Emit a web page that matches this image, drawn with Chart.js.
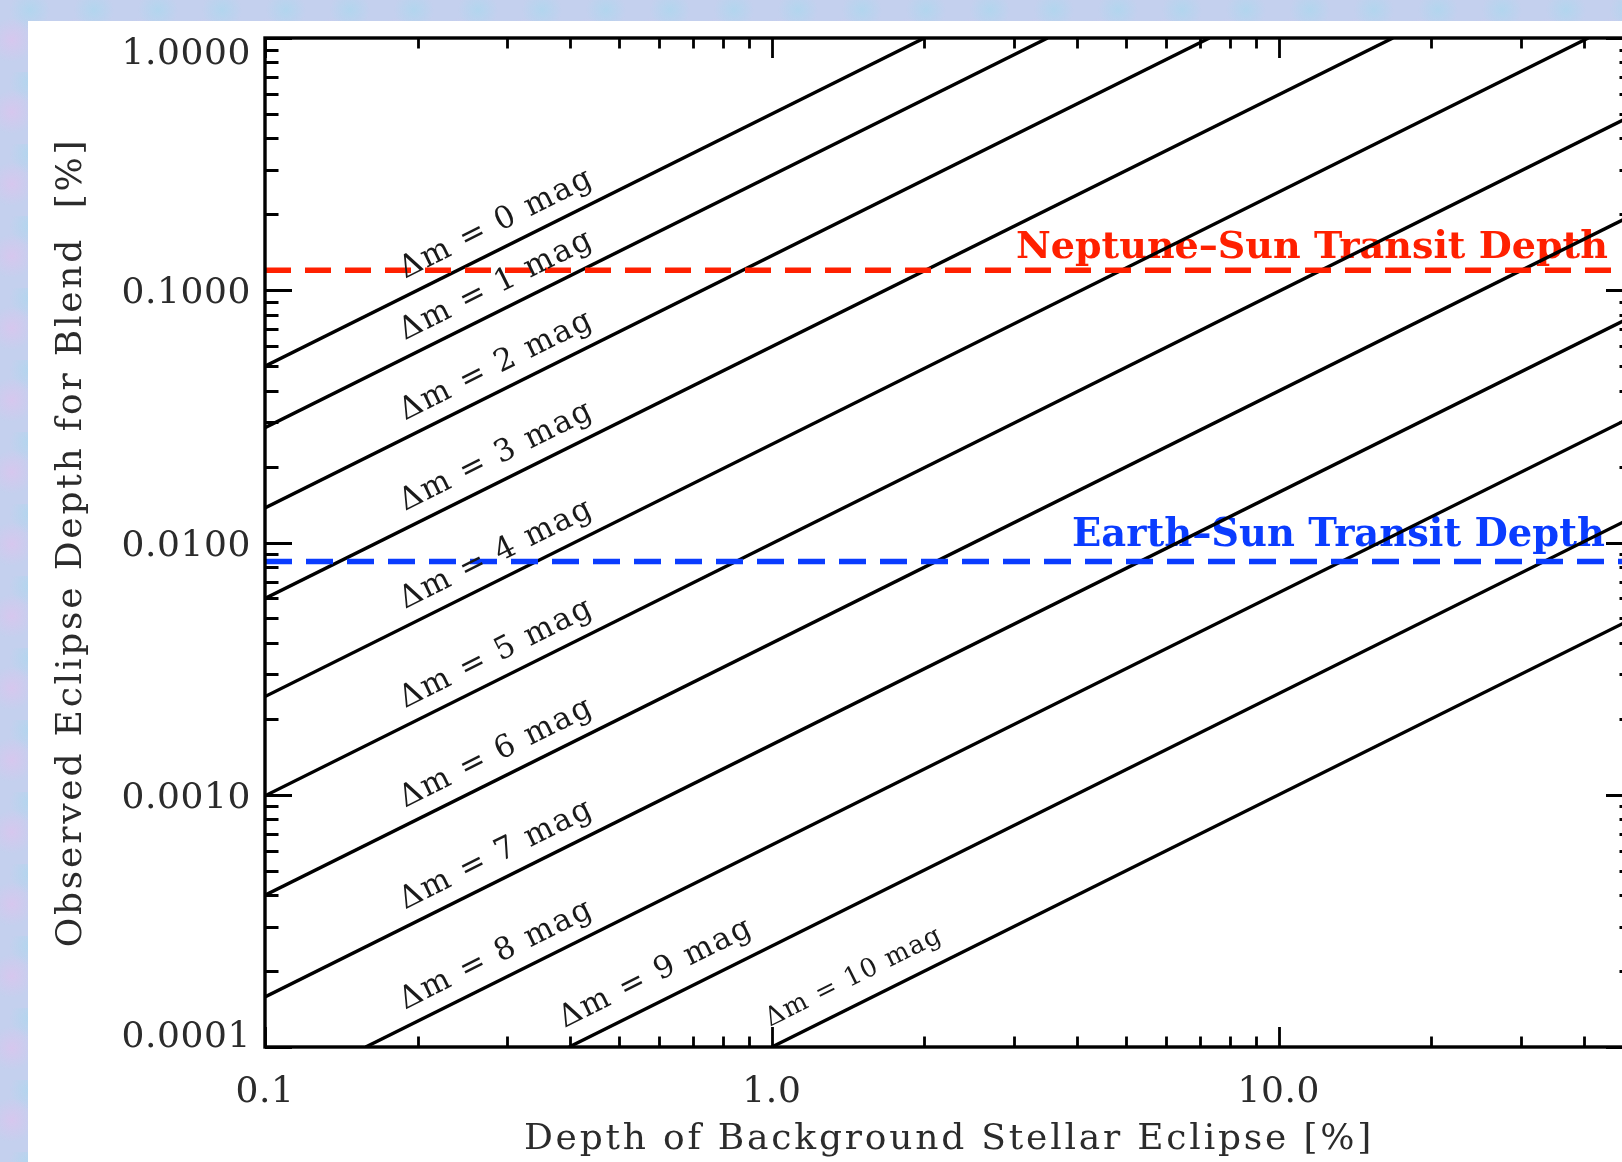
<!DOCTYPE html>
<html>
<head>
<meta charset="utf-8">
<script src="https://cdn.jsdelivr.net/npm/chart.js@4.4.1/dist/chart.umd.min.js"></script>
<style>
html,body{margin:0;padding:0;width:1622px;height:1162px;overflow:hidden;}
body{
  background-color:#c4d0ee;
  background-image:
    radial-gradient(circle at 12px 40px, rgba(216,198,238,0.9) 0, rgba(216,198,238,0) 22px),
    radial-gradient(circle at 30px 10px, rgba(176,214,238,0.9) 0, rgba(176,214,238,0) 20px),
    radial-gradient(circle at 50px 60px, rgba(198,212,244,0.9) 0, rgba(198,212,244,0) 18px);
  background-size:64px 72px;
}
#panel{position:absolute;left:28px;top:21px;right:0;bottom:0;background:#ffffff;}
#wrap{position:absolute;left:0;top:0;width:1660px;height:1162px;}
</style>
</head>
<body>
<div id="panel"></div>
<div id="wrap"><canvas id="c"></canvas></div>
<script>
// ---- data ----
const deltaMag = [0, 1, 2, 3, 4, 5, 6, 7, 8, 9, 10];
const lineStartDepth = [0.1, 0.1, 0.1, 0.1, 0.1, 0.1, 0.1, 0.1, 0.158, 0.398, 1.0];
const lineStartBlend = [0.05, 0.0285, 0.0137, 0.006, 0.00245, 0.00099, 0.0004, 0.000158, 0.0001, 0.0001, 0.0001];
const lineEndDepth = [2.0, 3.5, 7.3, 16.8, 40.8, 50, 50, 50, 50, 50, 50];
const lineEndBlend = [1, 1, 1, 1, 1, 0.495, 0.199, 0.079, 0.0316, 0.0126, 0.005];
const neptuneDepth = 0.12;
const earthDepth = 0.0084;
const xRange = [0.1, 50];
const yRange = [0.0001, 1];
const xTickValues = [0.1, 1, 10];
const xTickLabels = ['0.1', '1.0', '10.0'];
const yTickValues = [0.0001, 0.001, 0.01, 0.1, 1];
const yTickLabels = ['0.0001', '0.0010', '0.0100', '0.1000', '1.0000'];
const labelStartDepth = [0.195, 0.195, 0.195, 0.195, 0.195, 0.195, 0.195, 0.195, 0.195, 0.405, 1.03];
const neptuneText = 'Neptune\u2013Sun Transit Depth';
const earthText = 'Earth\u2013Sun Transit Depth';

// minor/major tick positions (1..9 x 10^n)
function decadeTicks(lo, hi) {
  const out = [];
  for (let e = Math.floor(Math.log10(lo)); e <= Math.ceil(Math.log10(hi)); e++) {
    for (let k = 1; k <= 9; k++) {
      const v = parseFloat((k * Math.pow(10, e)).toPrecision(4));
      if (v >= lo * 0.9999 && v <= hi * 1.0001) out.push({v, major: k === 1});
    }
  }
  return out;
}
const xAllTicks = decadeTicks(xRange[0], xRange[1]);
const yAllTicks = decadeTicks(yRange[0], yRange[1]);

const datasets = [];
datasets.push({
  label: 'Neptune', data: [{x: xRange[0], y: neptuneDepth}, {x: xRange[1], y: neptuneDepth}],
  borderColor: '#ff2000', borderWidth: 5.5, borderDash: [26, 14], pointRadius: 0, showLine: true
});
datasets.push({
  label: 'Earth', data: [{x: xRange[0], y: earthDepth}, {x: xRange[1], y: earthDepth}],
  borderColor: '#0a3cff', borderWidth: 5.5, borderDash: [27, 14], pointRadius: 0, showLine: true
});
deltaMag.forEach((m, i) => {
  datasets.push({
    label: '\u0394m = ' + m + ' mag',
    data: [{x: lineStartDepth[i], y: lineStartBlend[i]}, {x: lineEndDepth[i], y: lineEndBlend[i]}],
    borderColor: '#000', borderWidth: 3.4, pointRadius: 0, showLine: true
  });
});

const TXT = '#2b2b2b';
const SERIF = '"DejaVu Serif", "Liberation Serif", serif';

const decor = {
  id: 'decor',
  beforeDraw(chart) {
    chart.ctx.letterSpacing = '2.8px';
  },
  beforeDatasetsDraw(chart) {
    const {ctx, scales: {x, y}} = chart;
    ctx.letterSpacing = '0px';
    ctx.save();
    const size = 37;
    ctx.textAlign = 'right';
    ctx.textBaseline = 'alphabetic';
    const fit = (text, target) => {
      ctx.font = 'bold ' + size + 'px ' + SERIF;
      const w = ctx.measureText(text).width;
      return size * target / w;
    };
    const s1 = fit(neptuneText, 592);
    ctx.font = 'bold ' + s1 + 'px ' + SERIF;
    ctx.fillStyle = '#ff2000';
    ctx.fillText(neptuneText, x.getPixelForValue(44.6), y.getPixelForValue(neptuneDepth) - 12);
    const s2 = fit(earthText, 533);
    ctx.font = 'bold ' + s2 + 'px ' + SERIF;
    ctx.fillStyle = '#0a3cff';
    ctx.fillText(earthText, x.getPixelForValue(44.0), y.getPixelForValue(earthDepth) - 16);
    ctx.restore();
  },
  afterDatasetsDraw(chart) {
    const {ctx, chartArea: a, scales: {x, y}} = chart;
    ctx.save();
    ctx.strokeStyle = '#000';
    ctx.lineCap = 'butt';
    // ticks
    ctx.lineWidth = 2.8;
    ctx.beginPath();
    xAllTicks.forEach(t => {
      const px = Math.round(x.getPixelForValue(t.v)) + 0.5;
      const len = t.major ? 20 : 10.5;
      ctx.moveTo(px, a.bottom); ctx.lineTo(px, a.bottom - len);
      ctx.moveTo(px, a.top); ctx.lineTo(px, a.top + len);
    });
    yAllTicks.forEach(t => {
      const py = Math.round(y.getPixelForValue(t.v)) + 0.5;
      const len = t.major ? 27 : 13.5;
      ctx.moveTo(a.left, py); ctx.lineTo(a.left + len, py);
      ctx.moveTo(a.right, py); ctx.lineTo(a.right - len, py);
    });
    ctx.stroke();
    // frame
    ctx.lineWidth = 3.4;
    ctx.strokeRect(a.left, a.top, a.right - a.left, a.bottom - a.top);

    // tick labels
    const fs = 36;
    ctx.font = fs + 'px ' + SERIF;
    ctx.letterSpacing = '0.6px';
    ctx.fillStyle = TXT;
    ctx.textBaseline = 'alphabetic';
    const half = fs * 0.729 / 2;
    ctx.textAlign = 'right';
    yTickValues.forEach((v, i) => {
      const py = y.getPixelForValue(v);
      let base = py + half;
      if (i === yTickValues.length - 1) base = a.top + fs * 0.729;
      if (i === 0) base = a.bottom;
      ctx.fillText(yTickLabels[i], a.left - 14, base);
    });
    ctx.textAlign = 'center';
    xTickValues.forEach((v, i) => {
      ctx.fillText(xTickLabels[i], x.getPixelForValue(v), a.bottom + 55);
    });

    // line labels
    deltaMag.forEach((m, i) => {
      const meta = chart.getDatasetMeta(i + 2);
      const p0 = meta.data[0], p1 = meta.data[1];
      const ang = Math.atan2(p1.y - p0.y, p1.x - p0.x);
      const px = x.getPixelForValue(labelStartDepth[i]);
      const t = (px - p0.x) / (p1.x - p0.x);
      const py = p0.y + t * (p1.y - p0.y);
      const off = i >= 9 ? 19 : 16;
      const ax = px + Math.sin(ang) * off;
      const ay = py - Math.cos(ang) * off;
      const text = '\u0394m = ' + m + ' mag';
      const lsz = i === 10 ? 26 : 31;
      ctx.save();
      ctx.translate(ax, ay);
      ctx.rotate(ang);
      ctx.font = lsz + 'px ' + SERIF;
      ctx.letterSpacing = (i === 10 ? 1.3 : 1.8) + 'px';
      ctx.fillStyle = '#1a1a1a';
      ctx.textAlign = 'left';
      ctx.fillText(text, 0, 0);
      ctx.restore();
    });
    ctx.restore();
    ctx.letterSpacing = '0px';
  }
};

new Chart(document.getElementById('c'), {
  type: 'scatter',
  data: {datasets},
  options: {
    responsive: true,
    maintainAspectRatio: false,
    animation: false,
    devicePixelRatio: 1,
    layout: {padding: {top: 38, right: 27, left: 0, bottom: 0}},
    plugins: {legend: {display: false}, tooltip: {enabled: false}},
    scales: {
      x: {
        type: 'logarithmic', min: xRange[0], max: xRange[1],
        grid: {display: false, drawTicks: false}, border: {display: false},
        ticks: {display: false},
        afterBuildTicks: s => { s.ticks = xTickValues.map(v => ({value: v})); },
        afterFit: s => { s.height = 115; },
        title: {display: true, text: 'Depth of Background Stellar Eclipse [%]', color: TXT,
                font: {family: SERIF, size: 36}, padding: {top: 0, bottom: 1}}
      },
      y: {
        type: 'logarithmic', min: yRange[0], max: yRange[1],
        grid: {display: false, drawTicks: false}, border: {display: false},
        ticks: {display: false},
        afterBuildTicks: s => { s.ticks = yTickValues.map(v => ({value: v})); },
        afterFit: s => { s.width = 265; },
        title: {display: true, text: 'Observed Eclipse Depth for Blend  [%]', color: TXT,
                font: {family: SERIF, size: 36}, padding: {top: 50, bottom: 0}}
      }
    }
  },
  plugins: [decor]
});
</script>
</body>
</html>
